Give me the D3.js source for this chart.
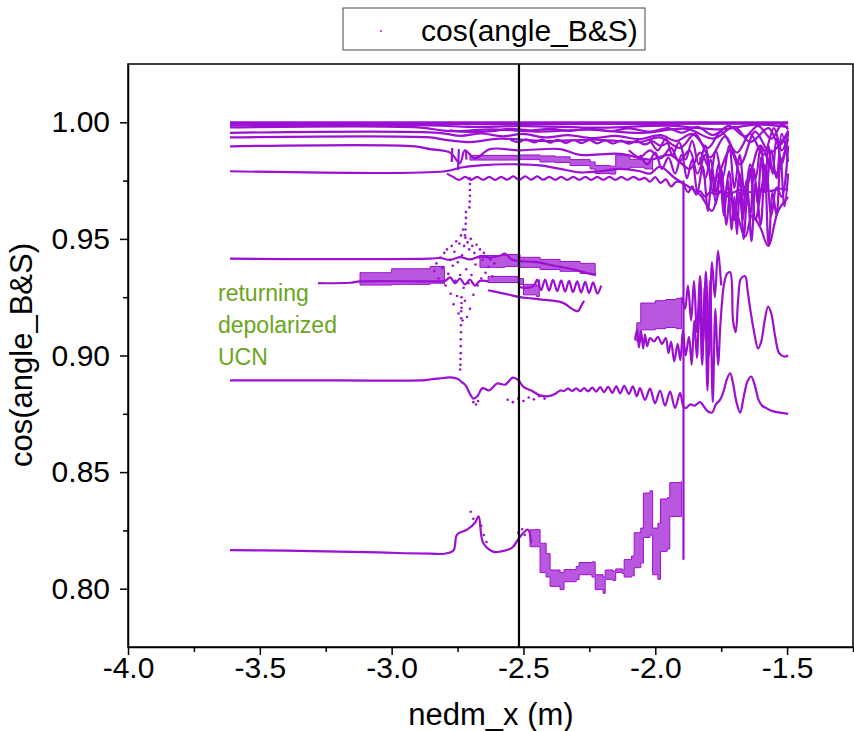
<!DOCTYPE html>
<html>
<head>
<meta charset="utf-8">
<script src="https://cdn.jsdelivr.net/npm/d3@7"></script>
<style>
  body { margin: 0; background: #fff; }
  text { font-family: "Liberation Sans", Arial, sans-serif; }
</style>
</head>
<body>
<div id="vis"></div>
<script>
// cos(angle between B and S) vs nedm_x, one polyline per simulated UCN track
// values are read off the reference picture

const xTicks = [-4.0, -3.5, -3.0, -2.5, -2.0, -1.5]
const xTickLabels = ['-4.0', '-3.5', '-3.0', '-2.5', '-2.0', '-1.5']
const xMinorTicks = [-3.75, -3.25, -2.75, -2.25, -1.75, -1.25]
const yTicks = [0.80, 0.85, 0.90, 0.95, 1.00]
const yTickLabels = ['0.80', '0.85', '0.90', '0.95', '1.00']
const yMinorTicks = [0.825, 0.875, 0.925, 0.975]
const markerX = -2.517   // black vertical marker
const noteLines = ['returning', 'depolarized', 'UCN']

// --- top band (cos close to 1)
const topA = [[-3.613,1.0000],[-1.496,1.0000]]
const topB = [[-3.613,0.9994],[-2.40,0.9992],[-1.496,0.9995]]
const topC = [[-3.613,0.9987],[-2.85,0.9987],[-2.70,0.9980],[-2.50,0.9984],[-2.20,0.9977],[-1.95,0.9986],[-1.75,0.9970],[-1.62,0.9990],[-1.496,0.9980]]
const topD = [[-3.613,0.9978],[-2.90,0.9978],[-2.78,0.9962],[-2.62,0.9970],[-2.45,0.9960],[-2.25,0.9968],[-2.05,0.9955],[-1.88,0.9972],[-1.78,0.9930],[-1.70,0.9980],[-1.64,0.9915],[-1.57,0.9975],[-1.53,0.9900],[-1.496,0.9965]]
const topE = [[-3.613,0.9955],[-2.82,0.9955],[-2.74,0.9942],[-2.66,0.9952],[-2.58,0.9940],[-2.50,0.9950],[-2.42,0.9935],[-2.33,0.9945],[-2.24,0.9932],[-2.15,0.9942],[-2.06,0.9928],[-1.98,0.9945],[-1.92,0.9920],[-1.86,0.9950],[-1.80,0.9890],[-1.75,0.9960],[-1.69,0.9870],[-1.64,0.9950],[-1.59,0.9860],[-1.55,0.9975],[-1.52,0.9880],[-1.496,0.9950]]
const topF = [[-3.613,0.9935],[-2.854,0.9935],[-2.797,0.9925],[-2.703,0.9915],[-2.589,0.9930],[-2.437,0.9920],[-2.209,0.9925],[-2.058,0.9915],[-1.982,0.9935],[-1.906,0.9890],[-1.849,0.9950],[-1.792,0.9850],[-1.735,0.9940],[-1.678,0.9820],[-1.621,0.9960],[-1.564,0.9870],[-1.496,0.9960]]
const topG = [[-3.613,0.9897],[-2.911,0.9897],[-2.854,0.9885],[-2.778,0.9870],[-2.741,0.9825],[-2.722,0.9880],[-2.684,0.9845],[-2.627,0.9885],[-2.513,0.9880],[-2.361,0.9885],[-2.285,0.9860],[-2.134,0.9865],[-2.020,0.9840],[-1.944,0.9860],[-1.868,0.9800],[-1.830,0.9870],[-1.773,0.9760],[-1.716,0.9880],[-1.659,0.9720],[-1.602,0.9900],[-1.545,0.9780],[-1.496,0.9930]]
const topWave = [[-2.55,0.9925],[-2.52,0.9915],[-2.49,0.9927],[-2.46,0.9914],[-2.43,0.9926],[-2.40,0.9913],[-2.37,0.9925],[-2.34,0.9912],[-2.31,0.9924],[-2.28,0.9911],[-2.25,0.9923],[-2.22,0.9910],[-2.19,0.9922],[-2.16,0.9909],[-2.13,0.9921],[-2.10,0.9908],[-2.07,0.9920],[-2.04,0.9905],[-2.01,0.9918],[-1.98,0.9900],[-1.95,0.9915]]
const topWave2 = [[-2.78,0.9965],[-2.70,0.9958],[-2.62,0.9962],[-2.55,0.9972],[-2.47,0.9965],[-2.40,0.9972],[-2.32,0.9963],[-2.25,0.9973],[-2.17,0.9962],[-2.10,0.9974],[-2.02,0.9960],[-1.95,0.9975],[-1.90,0.9955],[-1.84,0.9980],[-1.78,0.9945],[-1.72,0.9985],[-1.66,0.9940],[-1.61,0.9985],[-1.56,0.9930],[-1.52,0.9990],[-1.496,0.9970]]
const drip1 = [[-2.770,0.9890],[-2.772,0.9830]]
const drip2 = [[-2.745,0.9885],[-2.748,0.9795]]
const drip3 = [[-2.718,0.9880],[-2.716,0.9840]]

// --- 0.979 track and its dotted twin
const midTop = [[-3.613,0.9790],[-2.797,0.9790],[-2.741,0.9805],[-2.665,0.9815],[-2.513,0.9820],[-2.437,0.9815],[-2.361,0.9800],[-2.285,0.9785],[-2.209,0.9790],[-2.134,0.9800],[-2.058,0.9790],[-2.020,0.9780],[-1.982,0.9810],[-1.925,0.9760],[-1.868,0.9720],[-1.830,0.9690],[-1.785,0.9620],[-1.754,0.9700],[-1.708,0.9660],[-1.659,0.9510],[-1.633,0.9600],[-1.602,0.9550],[-1.572,0.9470],[-1.534,0.9620],[-1.496,0.9680]]
const midWave = [[-2.790,0.9780],[-2.767,0.9766],[-2.744,0.9753],[-2.721,0.9766],[-2.699,0.9753],[-2.676,0.9766],[-2.653,0.9753],[-2.630,0.9766],[-2.607,0.9753],[-2.585,0.9766],[-2.562,0.9754],[-2.539,0.9768],[-2.516,0.9754],[-2.493,0.9768],[-2.471,0.9754],[-2.448,0.9768],[-2.425,0.9754],[-2.402,0.9766],[-2.379,0.9753],[-2.357,0.9766],[-2.334,0.9753],[-2.311,0.9766],[-2.288,0.9753],[-2.265,0.9766],[-2.243,0.9753],[-2.220,0.9766],[-2.197,0.9753],[-2.174,0.9766],[-2.151,0.9753],[-2.129,0.9766],[-2.106,0.9753],[-2.083,0.9766],[-2.060,0.9754],[-2.040,0.9762],[-2.020,0.9745],[-2.000,0.9765],[-1.980,0.9740],[-1.960,0.9755],[-1.940,0.9725],[-1.920,0.9745],[-1.895,0.9740]]
const flatTail = [[-1.895,0.9740],[-1.875,0.9700],[-1.860,0.9725],[-1.845,0.9690],[-1.830,0.9705],[-1.811,0.9680],[-1.792,0.9700],[-1.773,0.9690],[-1.754,0.9705],[-1.716,0.9695],[-1.678,0.9710],[-1.640,0.9700],[-1.602,0.9712],[-1.564,0.9705],[-1.527,0.9715],[-1.496,0.9710]]
const chaosA = [[-2.058,0.9860],[-2.030,0.9820],[-2.000,0.9870],[-1.975,0.9800],[-1.950,0.9850],[-1.925,0.9780],[-1.900,0.9860],[-1.880,0.9760],[-1.860,0.9840],[-1.840,0.9700],[-1.820,0.9810],[-1.800,0.9620],[-1.785,0.9780],[-1.770,0.9650],[-1.750,0.9800],[-1.730,0.9560],[-1.715,0.9720],[-1.700,0.9600],[-1.680,0.9780],[-1.665,0.9500],[-1.650,0.9700],[-1.635,0.9490],[-1.620,0.9740],[-1.600,0.9560],[-1.585,0.9820],[-1.570,0.9470],[-1.555,0.9700],[-1.540,0.9600],[-1.525,0.9850],[-1.510,0.9640],[-1.496,0.9780]]
const chaosB = [[-2.020,0.9925],[-1.990,0.9880],[-1.960,0.9930],[-1.935,0.9860],[-1.910,0.9915],[-1.885,0.9840],[-1.860,0.9920],[-1.835,0.9820],[-1.810,0.9900],[-1.790,0.9780],[-1.770,0.9880],[-1.745,0.9760],[-1.720,0.9900],[-1.700,0.9720],[-1.680,0.9860],[-1.660,0.9680],[-1.640,0.9820],[-1.620,0.9760],[-1.600,0.9900],[-1.580,0.9700],[-1.560,0.9880],[-1.540,0.9760],[-1.520,0.9950],[-1.496,0.9830]]
const chaosC = [[-1.830,0.9850],[-1.810,0.9760],[-1.790,0.9840],[-1.770,0.9700],[-1.755,0.9780],[-1.740,0.9600],[-1.725,0.9750],[-1.710,0.9540],[-1.700,0.9680],[-1.690,0.9520],[-1.680,0.9700],[-1.668,0.9580],[-1.655,0.9750],[-1.640,0.9600],[-1.625,0.9800],[-1.612,0.9650],[-1.598,0.9850],[-1.585,0.9700],[-1.570,0.9900],[-1.555,0.9780],[-1.540,0.9930],[-1.520,0.9820],[-1.496,0.9960]]
const chaosD = [[-2.10,0.9880],[-2.06,0.9850],[-2.02,0.9880],[-1.98,0.9845],[-1.94,0.9890],[-1.91,0.9830],[-1.87,0.9880],[-1.84,0.9780],[-1.81,0.9860],[-1.78,0.9700],[-1.76,0.9820],[-1.74,0.9650],[-1.72,0.9790],[-1.70,0.9580],[-1.68,0.9740],[-1.66,0.9620],[-1.64,0.9800],[-1.62,0.9580],[-1.60,0.9700],[-1.58,0.9800],[-1.56,0.9600],[-1.54,0.9720],[-1.52,0.9680],[-1.496,0.9900]]

// --- 0.93-0.94 cluster
const bandTop = [[-3.613,0.9415],[-2.854,0.9415],[-2.816,0.9418],[-2.778,0.9410],[-2.741,0.9422],[-2.703,0.9412],[-2.665,0.9425],[-2.627,0.9420],[-2.589,0.9428],[-2.570,0.9437],[-2.545,0.9412],[-2.513,0.9405],[-2.475,0.9402],[-2.437,0.9398],[-2.399,0.9388],[-2.361,0.9380],[-2.323,0.9372],[-2.285,0.9362],[-2.247,0.9350],[-2.225,0.9345]]
const bandMid = [[-3.279,0.9310],[-3.158,0.9312],[-3.120,0.9318],[-2.816,0.9318],[-2.797,0.9320],[-2.778,0.9335],[-2.759,0.9310],[-2.741,0.9330],[-2.722,0.9305],[-2.703,0.9325],[-2.684,0.9300],[-2.665,0.9320],[-2.634,0.9318]]
const bandLow = [[-2.634,0.9280],[-2.600,0.9272],[-2.560,0.9262],[-2.513,0.9250],[-2.470,0.9245],[-2.430,0.9240],[-2.390,0.9235],[-2.361,0.9230],[-2.340,0.9220],[-2.323,0.9205],[-2.308,0.9195],[-2.293,0.9190],[-2.280,0.9215],[-2.270,0.9235]]
const lowWave = [[-2.520,0.9295],[-2.490,0.9290],[-2.460,0.9300],[-2.448,0.9326],[-2.433,0.9280],[-2.418,0.9326],[-2.403,0.9278],[-2.388,0.9324],[-2.372,0.9276],[-2.357,0.9322],[-2.342,0.9274],[-2.327,0.9320],[-2.312,0.9272],[-2.296,0.9318],[-2.281,0.9270],[-2.266,0.9316],[-2.251,0.9268],[-2.236,0.9314],[-2.220,0.9266],[-2.205,0.9300]]

// dense blocks: [x, lower edge, upper edge]
const blockStep = [[-2.703,0.9838,0.9858],[-2.513,0.9840,0.9860],[-2.437,0.9830,0.9856],[-2.380,0.9828,0.9852],[-2.323,0.9815,0.9840],[-2.247,0.9800,0.9830],[-2.228,0.9780,0.9815],[-2.171,0.9778,0.9812],[-2.150,0.9800,0.9860],[-2.096,0.9807,0.9841],[-2.040,0.9800,0.9830],[-2.010,0.9795,0.9840]]
const blockLeft = [[-3.120,0.9302,0.9355],[-3.000,0.9305,0.9372],[-2.854,0.9310,0.9382],[-2.800,0.9305,0.9375]]
const blockRight = [[-2.665,0.9378,0.9429],[-2.570,0.9382,0.9433],[-2.513,0.9378,0.9421],[-2.437,0.9369,0.9412],[-2.361,0.9361,0.9403],[-2.285,0.9352,0.9395],[-2.228,0.9345,0.9390]]
const blockLow = [[-2.634,0.9313,0.9339],[-2.520,0.9305,0.9330],[-2.500,0.9260,0.9305],[-2.450,0.9253,0.9300],[-2.440,0.9275,0.9326]]
const blockBottom = [[-2.475,0.8180,0.8253],[-2.437,0.8069,0.8195],[-2.414,0.8050,0.8150],[-2.399,0.8010,0.8080],[-2.361,0.7996,0.8069],[-2.346,0.8030,0.8082],[-2.300,0.8039,0.8095],[-2.289,0.8060,0.8112],[-2.240,0.8050,0.8115],[-2.228,0.7996,0.8060],[-2.198,0.7980,0.8050],[-2.190,0.8040,0.8080],[-2.160,0.8035,0.8075],[-2.150,0.8070,0.8085],[-2.125,0.8065,0.8080],[-2.118,0.8050,0.8125],[-2.090,0.8055,0.8140],[-2.080,0.8090,0.8240],[-2.055,0.8110,0.8260],[-2.045,0.8220,0.8410],[-2.020,0.8230,0.8420],[-2.010,0.8060,0.8260],[-1.990,0.8040,0.8280],[-1.980,0.8160,0.8385],[-1.955,0.8170,0.8390],[-1.945,0.8310,0.8455],[-1.900,0.8310,0.8460]]
const blockHigh = [[-2.070,0.9060,0.9140],[-2.055,0.9110,0.9225],[-2.000,0.9115,0.9235],[-1.960,0.9120,0.9240],[-1.920,0.9115,0.9245],[-1.900,0.9125,0.9250]]

// --- lower right tracks
const waveHigh = [[-1.898,0.9250],[-1.887,0.9200],[-1.876,0.9300],[-1.864,0.9150],[-1.853,0.9320],[-1.842,0.9100],[-1.830,0.9340],[-1.819,0.9050],[-1.808,0.9360],[-1.796,0.9000],[-1.785,0.9400],[-1.774,0.9250],[-1.762,0.9450],[-1.750,0.9300]]
const waveLow = [[-2.077,0.9065],[-2.069,0.9110],[-2.062,0.9035],[-2.054,0.9105],[-2.046,0.9030],[-2.039,0.9090],[-2.031,0.9040],[-2.020,0.9075],[-2.005,0.9060],[-1.990,0.9080],[-1.975,0.9050],[-1.960,0.9075],[-1.950,0.9010],[-1.940,0.9060],[-1.928,0.8975],[-1.915,0.9050],[-1.905,0.8980],[-1.895,0.9110],[-1.885,0.9000],[-1.872,0.9080],[-1.862,0.8960],[-1.852,0.9150],[-1.842,0.8990],[-1.832,0.9250],[-1.822,0.8960],[-1.812,0.9300],[-1.802,0.8850],[-1.792,0.9320],[-1.782,0.8800],[-1.772,0.9200],[-1.762,0.8960],[-1.752,0.9150],[-1.740,0.9300],[-1.728,0.9350],[-1.716,0.9357],[-1.705,0.9150],[-1.695,0.9100],[-1.685,0.9250],[-1.675,0.9330],[-1.659,0.9340],[-1.650,0.9280],[-1.640,0.9200],[-1.625,0.9100],[-1.610,0.9030],[-1.598,0.9060],[-1.585,0.9150],[-1.572,0.9210],[-1.560,0.9180],[-1.545,0.9080],[-1.530,0.9010],[-1.510,0.8995],[-1.496,0.9000]]
const line889 = [[-3.613,0.8893],[-3.200,0.8893],[-2.892,0.8893],[-2.854,0.8897],[-2.816,0.8902],[-2.778,0.8906],[-2.750,0.8900],[-2.733,0.8885],[-2.718,0.8870],[-2.705,0.8840],[-2.690,0.8815],[-2.675,0.8825],[-2.655,0.8860],[-2.630,0.8850],[-2.600,0.8880],[-2.570,0.8875],[-2.540,0.8905],[-2.520,0.8895],[-2.500,0.8865],[-2.470,0.8850],[-2.440,0.8830],[-2.410,0.8825],[-2.380,0.8835],[-2.361,0.8850],[-2.346,0.8848],[-2.331,0.8858],[-2.315,0.8848],[-2.300,0.8859],[-2.285,0.8847],[-2.270,0.8860],[-2.255,0.8846],[-2.239,0.8862],[-2.224,0.8845],[-2.209,0.8864],[-2.194,0.8843],[-2.179,0.8866],[-2.163,0.8840],[-2.148,0.8868],[-2.133,0.8837],[-2.118,0.8870],[-2.100,0.8835],[-2.085,0.8868],[-2.070,0.8825],[-2.058,0.8860],[-2.039,0.8810],[-2.020,0.8858],[-2.001,0.8795],[-1.982,0.8850],[-1.963,0.8785],[-1.944,0.8845],[-1.925,0.8775],[-1.906,0.8840],[-1.893,0.8780],[-1.883,0.8775],[-1.868,0.8790],[-1.850,0.8785],[-1.830,0.8800],[-1.815,0.8780],[-1.800,0.8760],[-1.785,0.8755],[-1.770,0.8790],[-1.754,0.8811],[-1.740,0.8850],[-1.728,0.8900],[-1.716,0.8923],[-1.705,0.8880],[-1.692,0.8800],[-1.678,0.8755],[-1.665,0.8820],[-1.650,0.8890],[-1.636,0.8910],[-1.622,0.8870],[-1.608,0.8810],[-1.595,0.8785],[-1.580,0.8775],[-1.564,0.8765],[-1.545,0.8758],[-1.527,0.8755],[-1.496,0.8750]]
const jump = [[-1.893,0.9750],[-1.893,0.8124]]

// --- 0.816 track
const bottomTrack = [[-3.613,0.8165],[-3.400,0.8163],[-3.250,0.8160],[-3.100,0.8157],[-2.950,0.8152],[-2.850,0.8150],[-2.800,0.8150],[-2.765,0.8165],[-2.752,0.8232],[-2.714,0.8253],[-2.684,0.8283],[-2.670,0.8310],[-2.653,0.8197],[-2.615,0.8159],[-2.589,0.8159],[-2.543,0.8176],[-2.513,0.8223],[-2.483,0.8253],[-2.471,0.8195]]

// --- scattered points near x = -2.7
const cloudDots = [[-2.838,0.9362],[-2.830,0.9395],[-2.822,0.9330],[-2.815,0.9420],[-2.808,0.9375],[-2.800,0.9440],[-2.795,0.9300],[-2.790,0.9455],[-2.785,0.9350],[-2.780,0.9410],[-2.776,0.9265],[-2.772,0.9470],[-2.768,0.9385],[-2.765,0.9220],[-2.762,0.9445],[-2.758,0.9320],[-2.755,0.9490],[-2.752,0.9255],[-2.749,0.9400],[-2.746,0.9180],[-2.743,0.9480],[-2.740,0.9345],[-2.737,0.9515],[-2.735,0.9205],[-2.733,0.9430],[-2.731,0.9150],[-2.729,0.9540],[-2.727,0.9290],[-2.725,0.9470],[-2.722,0.9235],[-2.720,0.9505],[-2.717,0.9370],[-2.714,0.9165],[-2.712,0.9485],[-2.709,0.9310],[-2.706,0.9455],[-2.703,0.9200],[-2.700,0.9500],[-2.697,0.9345],[-2.694,0.9470],[-2.690,0.9260],[-2.686,0.9440],[-2.682,0.9390],[-2.678,0.9475],[-2.674,0.9300],[-2.670,0.9420],[-2.665,0.9455],[-2.660,0.9330],[-2.655,0.9410],[-2.650,0.9440],[-2.644,0.9355],[-2.638,0.9425],[-2.632,0.9380],[-2.625,0.9412],[-2.618,0.9340],[-2.610,0.9395],
  [-2.703,0.9760],[-2.703,0.9735],[-2.703,0.9710],[-2.703,0.9685],[-2.704,0.9660],[-2.705,0.9635],[-2.718,0.9615],[-2.718,0.9590],[-2.719,0.9565],[-2.720,0.9540],[-2.722,0.9515],
  [-2.735,0.9250],[-2.735,0.9225],[-2.736,0.9190],[-2.736,0.9160],[-2.737,0.9130],[-2.737,0.9100],[-2.738,0.9070],[-2.738,0.9040],[-2.738,0.9010],[-2.739,0.8985],[-2.739,0.8960],[-2.740,0.8940],[-2.690,0.8800],[-2.680,0.8790],[-2.672,0.8805],[-2.560,0.8810],[-2.540,0.8800],[-2.520,0.8815],[-2.500,0.8805],[-2.480,0.8820],[-2.460,0.8812],[-2.440,0.8825],[-2.420,0.8815],
  [-2.700,0.8330],[-2.690,0.8300],[-2.660,0.8270],[-2.650,0.8230],[-2.640,0.8200],[-2.520,0.8240],[-2.505,0.8255],[-2.495,0.8230]]

const tracks = [topA, topB, topC, topD, topE, topF, topG, topWave, topWave2, drip1, drip2, drip3,
  midTop, midWave, flatTail, chaosA, chaosB, chaosC, chaosD,
  bandTop, bandMid, bandLow, lowWave,
  waveHigh, waveLow, line889, jump, bottomTrack]
const blocks = [blockStep, blockLeft, blockRight, blockLow, blockBottom, blockHigh]

const W = 854, H = 731
const purple = '#9b10d2'

const svg = d3.select('#vis')
  .append('svg')
  .attr('width', W)
  .attr('height', H)
  .style('background-color', '#fff')

const x = d3.scaleLinear().domain([-4.0, -1.25]).range([128, 853])
const y = d3.scaleLinear().domain([0.775, 1.025]).range([647, 64])

svg.append('clipPath').attr('id', 'plotclip')
  .append('rect')
  .attr('x', x.range()[0]).attr('y', y.range()[1])
  .attr('width', x.range()[1] - x.range()[0])
  .attr('height', y.range()[0] - y.range()[1])

let plot = svg.append('g').attr('clip-path', 'url(#plotclip)')

// dense blocks of points
let area = d3.area().x(d => x(d[0])).y0(d => y(d[1])).y1(d => y(d[2])).curve(d3.curveStepAfter)
plot.selectAll('path.block')
  .data(blocks)
  .enter()
  .append('path')
    .attr('class', 'block')
    .attr('d', area)
    .attr('fill', purple)
    .attr('fill-opacity', 0.7)
    .attr('stroke', purple)
    .attr('stroke-width', 1)

// tracks
let line = d3.line().x(d => x(d[0])).y(d => y(d[1])).curve(d3.curveCatmullRom.alpha(0.5))
plot.selectAll('path.track')
  .data(tracks)
  .enter()
  .append('path')
    .attr('class', 'track')
    .attr('d', line)
    .attr('fill', 'none')
    .attr('stroke', purple)
    .attr('stroke-width', 2.2)
    .attr('stroke-linejoin', 'round')
plot.selectAll('circle')
  .data(cloudDots)
  .enter()
  .append('circle')
    .attr('cx', d => x(d[0]))
    .attr('cy', d => y(d[1]))
    .attr('r', 1.3)
    .attr('fill', purple)

// vertical marker
svg.append('line')
  .attr('x1', x(markerX)).attr('x2', x(markerX))
  .attr('y1', y.range()[1]).attr('y2', y.range()[0])
  .attr('stroke', '#000')
  .attr('stroke-width', 2.2)

// frame
svg.append('rect')
  .attr('x', x.range()[0]).attr('y', y.range()[1])
  .attr('width', x.range()[1] - x.range()[0])
  .attr('height', y.range()[0] - y.range()[1])
  .attr('fill', 'none')
  .attr('stroke', '#000')
  .attr('stroke-width', 1.5)

// X-axis
let xAxis = svg.append('g')
  .attr('transform', 'translate(0,' + y.range()[0] + ')')
  .call(d3.axisBottom(x).tickValues(xTicks).tickSize(8).tickSizeOuter(0)
    .tickFormat((d, i) => xTickLabels[i]))
svg.append('g')
  .attr('transform', 'translate(0,' + y.range()[0] + ')')
  .call(d3.axisBottom(x).tickValues(xMinorTicks).tickSize(5).tickSizeOuter(0).tickFormat(''))
  .select('.domain').remove()
xAxis.selectAll('text')
  .attr('y', 10)
  .style('font-size', '30px')
  .attr('fill', '#000')

// Y-axis
let yAxis = svg.append('g')
  .attr('transform', 'translate(' + x.range()[0] + ',0)')
  .call(d3.axisLeft(y).tickValues(yTicks).tickSize(8).tickSizeOuter(0)
    .tickFormat((d, i) => yTickLabels[i]))
svg.append('g')
  .attr('transform', 'translate(' + x.range()[0] + ',0)')
  .call(d3.axisLeft(y).tickValues(yMinorTicks).tickSize(5).tickSizeOuter(0).tickFormat(''))
  .select('.domain').remove()
yAxis.selectAll('text')
  .attr('x', -18)
  .style('font-size', '30px')
  .attr('fill', '#000')
svg.selectAll('.tick line').attr('stroke-width', 1.5)
svg.selectAll('.domain').attr('stroke-width', 1.5)

// axis titles
svg.append('text')
  .attr('x', 491).attr('y', 725)
  .attr('text-anchor', 'middle')
  .style('font-size', '31px')
  .text('nedm_x (m)')
svg.append('text')
  .attr('transform', 'translate(32,355) rotate(-90)')
  .attr('text-anchor', 'middle')
  .style('font-size', '31px')
  .text('cos(angle_B&S)')

// annotation
svg.selectAll('text.note')
  .data(noteLines)
  .enter()
  .append('text')
    .attr('class', 'note')
    .attr('x', 218)
    .attr('y', (d, i) => 301 + i * 32)
    .style('font-size', '23px')
    .attr('fill', '#6aa61c')
    .text(d => d)

// legend
let legend = svg.append('g')
legend.append('rect')
  .attr('x', 343).attr('y', 8)
  .attr('width', 302).attr('height', 42)
  .attr('fill', '#fff')
  .attr('stroke', '#444')
  .attr('stroke-width', 1)
legend.append('circle')
  .attr('cx', 381).attr('cy', 31).attr('r', 0.9)
  .attr('fill', purple)
legend.append('text')
  .attr('x', 421).attr('y', 41)
  .style('font-size', '30px')
  .text('cos(angle_B&S)')
</script>
</body>
</html>
